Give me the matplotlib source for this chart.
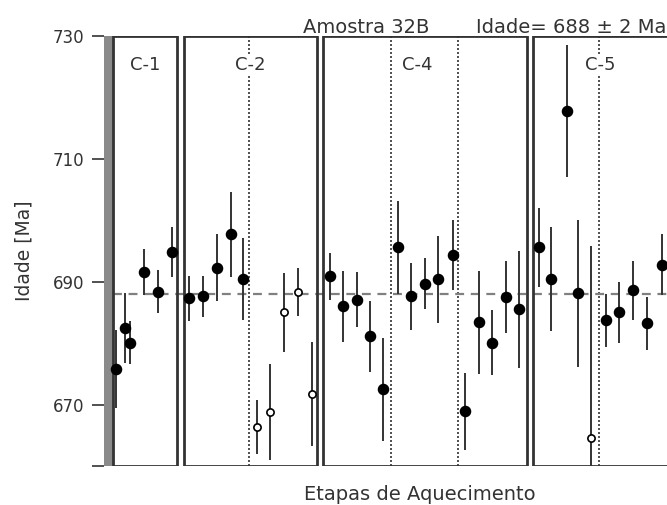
import matplotlib
matplotlib.use("Agg")
import matplotlib.pyplot as plt
from matplotlib.patches import Rectangle

plt.rcParams['font.family'] = ['DejaVu Sans']

# ---- data (step positions in panel units, ages in Ma, 1-sigma errors) ----
c1_x = [116, 125, 130, 144, 158, 172]
c1_age = [675.8, 682.4, 680.1, 691.6, 688.4, 694.8]
c1_err = [6.3, 5.7, 3.5, 3.8, 3.5, 4.1]

c2_x = [189, 203, 217, 231, 243]
c2_age = [687.3, 687.6, 692.3, 697.7, 690.4]
c2_err = [3.7, 3.3, 5.5, 6.9, 6.7]
c2_open_x = [257, 270, 284, 298, 312]
c2_open_age = [666.3, 668.8, 685.0, 688.4, 671.7]
c2_open_err = [4.4, 7.8, 6.5, 3.9, 8.5]

c4_x = [330, 343, 357, 370, 383, 398, 411, 425, 438, 453, 465, 479, 492, 506, 519]
c4_age = [690.9, 686.0, 687.1, 681.1, 672.5, 695.6, 687.6, 689.7, 690.4, 694.4,
          668.9, 683.4, 680.1, 687.5, 685.5]
c4_err = [3.8, 5.8, 4.5, 5.8, 8.4, 7.6, 5.4, 4.1, 7.1, 5.7, 6.3, 8.4, 5.3, 5.8, 9.5]

c5_x = [539, 551, 567, 578, 606, 619, 633, 647, 662]
c5_age = [695.6, 690.4, 717.8, 688.1, 683.7, 685.0, 688.6, 683.2, 692.8]
c5_err = [6.4, 8.5, 10.7, 12.0, 4.3, 4.9, 4.8, 4.3, 4.9]
c5_open_x = [591]
c5_open_age = [664.6]
c5_open_err = [31.2]

panel_names = ['C-1', 'C-2', 'C-4', 'C-5']
panel_left = [113, 184, 323, 533]
panel_right = [177, 317, 527, 700]
panel_label_x = [145, 250, 417, 600]
dotted_x = [249, 391, 458, 599]

plateau_age = 688
yticks = [660, 670, 690, 710, 730]
yticklabels = ['', '670', '690', '710', '730']

# ---- figure ----
fig = plt.figure(figsize=(6.67, 5.05), dpi=100)
ax = fig.add_axes([104 / 667, (505 - 466) / 505, (667 - 104) / 667, (466 - 36) / 505])
ax.set_xlim(104, 667)
ax.set_ylim(660, 730)

for s in ['top', 'right', 'bottom', 'left']:
    ax.spines[s].set_visible(False)

# thick grey left axis bar
ax.add_patch(Rectangle((104, 660), 9, 70, facecolor='#8a8a8a', edgecolor='none',
                       zorder=2, clip_on=False))

# panel boxes
for l, r in zip(panel_left, panel_right):
    ax.add_patch(Rectangle((l, 660), r - l, 70, facecolor='none', edgecolor='#333333',
                           lw=2.0, zorder=3, clip_on=True))

for name, xl in zip(panel_names, panel_label_x):
    ax.text(xl, 725.3, name, ha='center', va='center', fontsize=13, color='#333333',
            zorder=5, bbox=dict(facecolor='white', edgecolor='none', pad=1))

for dx in dotted_x:
    ax.axvline(dx, color='#333333', lw=1.2, ls=(0, (1.2, 1.2)), zorder=2)

ax.axhline(plateau_age, xmin=(113 - 104) / (667 - 104), color='#808080', lw=1.6,
           ls=(0, (4, 3)), zorder=2)

ekw = dict(fmt='o', color='black', ecolor='#333333', elinewidth=1.4, capsize=0,
           markersize=7.3, zorder=4)
okw = dict(fmt='o', mfc='white', mec='black', mew=1.2, ecolor='#333333',
           elinewidth=1.4, capsize=0, markersize=5.2, zorder=4)

ax.errorbar(c1_x, c1_age, yerr=c1_err, **ekw)
ax.errorbar(c2_x, c2_age, yerr=c2_err, **ekw)
ax.errorbar(c2_open_x, c2_open_age, yerr=c2_open_err, **okw)
ax.errorbar(c4_x, c4_age, yerr=c4_err, **ekw)
ax.errorbar(c5_x, c5_age, yerr=c5_err, **ekw)
ax.errorbar(c5_open_x, c5_open_age, yerr=c5_open_err, **okw)

ax.set_yticks(yticks)
ax.set_yticklabels(yticklabels)
ax.tick_params(axis='y', direction='out', length=9, width=1.2, color='#333333',
               labelsize=12, labelcolor='#333333', pad=5)
ax.set_xticks([])

ax.set_ylabel('Idade [Ma]', fontsize=13.5, color='#333333', labelpad=14)
fig.text(420 / 667, 1 - 494 / 505, 'Etapas de Aquecimento', ha='center', va='center',
         fontsize=14, color='#333333')
fig.text(303 / 667, 1 - 33 / 505, 'Amostra 32B', ha='left', va='baseline', fontsize=14,
         color='#333333')
fig.text(666 / 667, 1 - 33 / 505, 'Idade= 688 \u00b1 2 Ma', ha='right', va='baseline',
         fontsize=14, color='#333333')

fig.savefig('out.png', dpi=100, facecolor='white')
